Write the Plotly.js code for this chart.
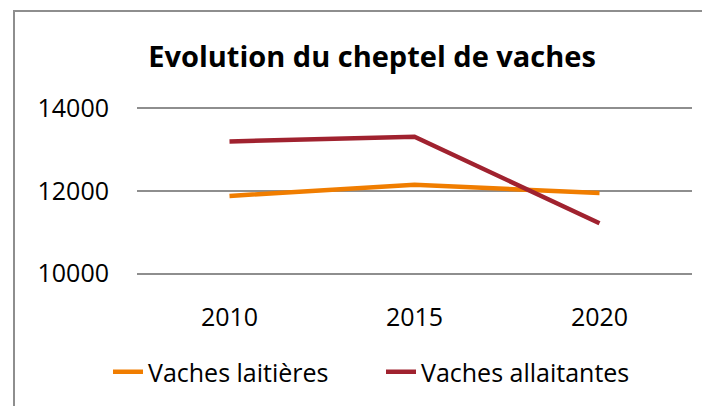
<!DOCTYPE html>
<html>
<head>
<meta charset="utf-8">
<script src="https://cdn.plot.ly/plotly-3.0.1.min.js"></script>
<style>
  body { margin: 0; overflow: hidden; background: #fff; }
  #plot { position: absolute; left: 0; top: 0; width: 702px; height: 406px; }
  #frame { position: absolute; left: 13px; top: 10px; width: 760px; height: 460px;
           border: 2px solid #8e8e8e; pointer-events: none; }
</style>
</head>
<body>
<div id="plot"></div>
<div id="frame"></div>
<script>
const years = ['2010', '2015', '2020'];
const laitieres = [11880, 12150, 11950];
const allaitantes = [13200, 13315, 11220];

const font = '"Open Sans", "Noto Sans", sans-serif';

const traces = [
  {
    x: years, y: laitieres, name: 'Vaches laitières',
    mode: 'lines', line: { color: '#f07d00', width: 4.5 }
  },
  {
    x: years, y: allaitantes, name: 'Vaches allaitantes',
    mode: 'lines', line: { color: '#a0222f', width: 4.5 }
  }
];

const layout = {
  width: 702,
  height: 406,
  // range padded so the 10000 / 14000 gridlines are not clipped at the edges
  margin: { l: 137, r: 10, t: 106, b: 130 },
  paper_bgcolor: '#fff',
  plot_bgcolor: '#fff',
  font: { family: font, size: 25, color: '#000' },
  title: {
    text: '<b>Evolution du cheptel de vaches</b>',
    font: { family: font, size: 29, color: '#000' },
    xref: 'container', x: 0.53, xanchor: 'center',
    yref: 'container', y: 0.86, yanchor: 'middle'
  },
  xaxis: {
    type: 'category',
    range: [-0.5, 2.5],
    showgrid: false, zeroline: false, showline: false,
    ticks: '', ticklabelstandoff: 24,
    tickfont: { family: font, size: 25 }
  },
  yaxis: {
    range: [9940, 14060],
    tickvals: [10000, 12000, 14000],
    ticktext: ['10000', '12000', '14000'],
    showgrid: true, gridcolor: '#8e8e8e', gridwidth: 2,
    zeroline: false, showline: false,
    ticks: '', ticklabelstandoff: 27,
    tickfont: { family: font, size: 25 }
  },
  showlegend: true,
  legend: {
    orientation: 'h',
    xref: 'container', yref: 'container',
    x: 108 / 702, xanchor: 'left',
    y: 1 - 372 / 406, yanchor: 'middle',
    font: { family: font, size: 25 },
    entrywidth: 228, entrywidthmode: 'pixels',
    tracegroupgap: 0
  }
};

Plotly.newPlot('plot', traces, layout, { displayModeBar: false, staticPlot: true });
</script>
</body>
</html>
